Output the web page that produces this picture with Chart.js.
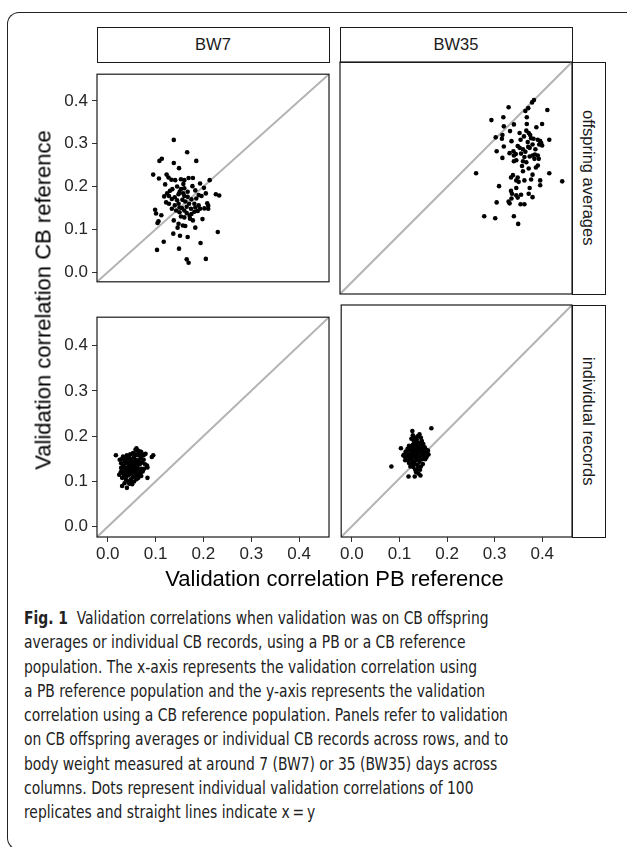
<!DOCTYPE html>
<html>
<head>
<meta charset="utf-8">
<script src="https://cdn.jsdelivr.net/npm/chart.js@4/dist/chart.umd.min.js"></script>
<style>
  html, body { margin: 0; padding: 0; background: #fff; }
  body { width: 627px; height: 847px; position: relative; overflow: hidden; font-family: "Liberation Sans", Arial, sans-serif; }
  .frame { position: absolute; left: 7px; top: 12px; width: 640px; height: 836px; border-top: 1px solid #222; border-left: 1px solid #222; border-bottom: 1px solid #222; border-radius: 12px 0 0 12px; }
  canvas { position: absolute; }
  .strip { position: absolute; box-sizing: border-box; border: 1.2px solid #1a1a1a; background: #fff; display: flex; align-items: center; justify-content: center; font-size: 16.5px; color: #1a1a1a; }
  .strip.side span { writing-mode: vertical-rl; }
  .axis-title { position: absolute; font-size: 22px; color: #000; text-align: center; white-space: nowrap; line-height: 24px; }
  .caption { position: absolute; left: 24px; top: 606px; font-family: "DejaVu Sans Condensed", "DejaVu Sans", sans-serif; font-size: 17px; line-height: 24.3px; color: #222; white-space: nowrap; transform: scaleX(0.908); transform-origin: 0 0; }
</style>
</head>
<body>
<div class="frame"></div>

<div class="strip" style="left:96.5px;top:27px;width:233px;height:35.5px">BW7</div>
<div class="strip" style="left:339.5px;top:27px;width:233px;height:35.5px">BW35</div>
<div class="strip side" style="left:571.5px;top:61.5px;width:34.5px;height:233px"><span>offspring averages</span></div>
<div class="strip side" style="left:571.5px;top:304.5px;width:34.5px;height:233px"><span>individual records</span></div>

<canvas id="pTL" width="283" height="236" style="left:48px;top:60px"></canvas>
<canvas id="pTR" width="236" height="236" style="left:338px;top:60px"></canvas>
<canvas id="pBL" width="283" height="266" style="left:48px;top:303px"></canvas>
<canvas id="pBR" width="236" height="266" style="left:338px;top:303px"></canvas>

<div class="axis-title" style="left:97px;top:567px;width:475px">Validation correlation PB reference</div>
<div class="axis-title" style="left:-194.5px;top:287.5px;width:475px;transform:rotate(-90deg)">Validation correlation CB reference</div>

<div class="caption">
  <div><b>Fig. 1</b>&nbsp; Validation correlations when validation was on CB offspring</div>
  <div>averages or individual CB records, using a PB or a CB reference</div>
  <div>population. The x-axis represents the validation correlation using</div>
  <div>a PB reference population and the y-axis represents the validation</div>
  <div>correlation using a CB reference population. Panels refer to validation</div>
  <div>on CB offspring averages or individual CB records across rows, and to</div>
  <div>body weight measured at around 7 (BW7) or 35 (BW35) days across</div>
  <div>columns. Dots represent individual validation correlations of 100</div>
  <div>replicates and straight lines indicate x&thinsp;=&thinsp;y</div>
</div>

<script>
// tick labels shared by all panels
const tickValues = [0, 0.1, 0.2, 0.3, 0.4];
const axisLimits = [-0.0225, 0.4625];

// [PB reference, CB reference] per replicate
const bw7Offspring = [
  [0.138,0.309],[0.166,0.280],[0.185,0.260],[0.108,0.260],[0.113,0.265],[0.138,0.255],[0.149,0.243],
  [0.095,0.228],[0.107,0.219],[0.123,0.228],[0.127,0.221],[0.133,0.216],[0.141,0.215],[0.153,0.217],
  [0.160,0.215],[0.169,0.220],[0.178,0.220],[0.158,0.206],[0.193,0.207],[0.213,0.215],[0.135,0.194],
  [0.177,0.201],[0.201,0.197],[0.153,0.194],[0.167,0.188],[0.183,0.191],[0.124,0.184],[0.148,0.182],
  [0.158,0.184],[0.190,0.180],[0.205,0.184],[0.226,0.182],[0.233,0.179],[0.118,0.177],[0.167,0.176],
  [0.134,0.171],[0.156,0.169],[0.162,0.165],[0.122,0.163],[0.148,0.160],[0.181,0.160],[0.190,0.156],
  [0.208,0.161],[0.210,0.155],[0.134,0.148],[0.143,0.144],[0.150,0.151],[0.174,0.148],[0.183,0.151],
  [0.193,0.148],[0.202,0.149],[0.210,0.148],[0.099,0.146],[0.101,0.137],[0.160,0.144],[0.165,0.138],
  [0.171,0.132],[0.181,0.141],[0.112,0.133],[0.153,0.130],[0.160,0.128],[0.172,0.125],[0.178,0.121],
  [0.198,0.124],[0.106,0.119],[0.104,0.115],[0.138,0.121],[0.148,0.113],[0.157,0.109],[0.162,0.108],
  [0.146,0.104],[0.183,0.104],[0.137,0.090],[0.151,0.085],[0.167,0.082],[0.230,0.094],[0.117,0.071],
  [0.194,0.068],[0.149,0.055],[0.103,0.052],[0.165,0.030],[0.169,0.022],[0.205,0.031],
  [0.140,0.175],[0.150,0.187],[0.145,0.168],[0.160,0.178],[0.170,0.160],[0.155,0.150],[0.165,0.153],
  [0.175,0.170],[0.130,0.190],[0.185,0.172],[0.145,0.200],[0.120,0.205],[0.140,0.156],[0.175,0.136],
  [0.160,0.196],[0.188,0.143],[0.128,0.160],[0.150,0.140],[0.128,0.178],[0.196,0.178]
];

const bw35Offspring = [
  [0.383,0.383],[0.379,0.378],[0.371,0.366],[0.365,0.360],[0.330,0.368],[0.411,0.362],[0.319,0.347],
  [0.294,0.341],[0.368,0.347],[0.341,0.332],[0.320,0.328],[0.368,0.333],[0.400,0.333],[0.388,0.326],
  [0.333,0.318],[0.353,0.314],[0.367,0.319],[0.372,0.314],[0.303,0.305],[0.317,0.310],[0.316,0.302],
  [0.362,0.307],[0.377,0.303],[0.382,0.302],[0.391,0.300],[0.396,0.297],[0.398,0.293],[0.394,0.290],
  [0.400,0.288],[0.415,0.300],[0.336,0.297],[0.349,0.287],[0.353,0.283],[0.371,0.285],[0.374,0.283],
  [0.320,0.286],[0.305,0.276],[0.332,0.272],[0.340,0.276],[0.356,0.271],[0.374,0.265],[0.380,0.267],
  [0.385,0.269],[0.391,0.267],[0.393,0.260],[0.384,0.260],[0.317,0.262],[0.341,0.267],[0.341,0.255],
  [0.346,0.257],[0.363,0.264],[0.360,0.255],[0.367,0.253],[0.391,0.246],[0.387,0.242],[0.262,0.230],
  [0.415,0.230],[0.360,0.234],[0.339,0.226],[0.335,0.221],[0.349,0.221],[0.380,0.227],[0.346,0.215],
  [0.351,0.212],[0.363,0.215],[0.377,0.217],[0.396,0.215],[0.442,0.213],[0.396,0.205],[0.310,0.203],
  [0.346,0.199],[0.374,0.199],[0.335,0.193],[0.337,0.187],[0.346,0.184],[0.356,0.185],[0.372,0.187],
  [0.380,0.180],[0.336,0.177],[0.349,0.179],[0.305,0.169],[0.330,0.171],[0.332,0.167],[0.355,0.165],
  [0.363,0.165],[0.279,0.140],[0.302,0.136],[0.341,0.140],[0.350,0.124],
  [0.360,0.280],[0.370,0.295],[0.355,0.300],[0.380,0.290],[0.365,0.275],[0.345,0.270],[0.386,0.280],
  [0.375,0.310],[0.358,0.245],[0.372,0.240]
];

const bw7Individual = [
  [0.017,0.158],[0.095,0.158],[0.060,0.173],[0.068,0.166],[0.079,0.161],[0.092,0.154],[0.082,0.135],
  [0.083,0.108],[0.030,0.090],[0.040,0.086],[0.051,0.094],[0.024,0.115],[0.083,0.131],[0.058,0.170],
  [0.030,0.150],[0.035,0.145],[0.028,0.140],[0.033,0.135],[0.038,0.140],[0.042,0.148],[0.045,0.152],
  [0.048,0.145],[0.052,0.150],[0.055,0.155],[0.058,0.160],[0.062,0.158],[0.065,0.162],[0.070,0.155],
  [0.072,0.160],[0.068,0.150],[0.063,0.146],[0.060,0.140],[0.055,0.142],[0.050,0.138],[0.045,0.135],
  [0.040,0.130],[0.035,0.128],[0.030,0.125],[0.027,0.120],[0.032,0.118],[0.037,0.122],[0.042,0.125],
  [0.047,0.128],[0.052,0.132],[0.057,0.135],[0.062,0.132],[0.067,0.138],[0.072,0.142],[0.075,0.148],
  [0.078,0.138],[0.070,0.128],[0.065,0.125],[0.060,0.122],[0.055,0.120],[0.050,0.118],[0.045,0.115],
  [0.040,0.112],[0.035,0.110],[0.030,0.108],[0.038,0.104],[0.043,0.100],[0.048,0.105],[0.053,0.110],
  [0.058,0.113],[0.063,0.115],[0.068,0.118],[0.073,0.122],[0.076,0.128],[0.060,0.105],[0.055,0.100],
  [0.050,0.098],[0.045,0.095],[0.035,0.096],[0.028,0.130],[0.025,0.148],[0.032,0.155],[0.040,0.158],
  [0.047,0.160],[0.053,0.163],[0.063,0.168],[0.070,0.165],[0.075,0.158],[0.066,0.143],[0.058,0.148],
  [0.049,0.142],[0.043,0.142],[0.038,0.150],[0.053,0.125],[0.047,0.122],[0.058,0.128],[0.064,0.108],
  [0.070,0.112],[0.034,0.116],[0.041,0.119]
];

const bw35Individual = [
  [0.083,0.125],[0.167,0.205],[0.127,0.199],[0.103,0.163],[0.119,0.104],[0.132,0.104],[0.144,0.106],
  [0.110,0.150],[0.112,0.145],[0.115,0.155],[0.118,0.148],[0.120,0.160],[0.122,0.142],[0.125,0.165],
  [0.128,0.155],[0.130,0.150],[0.132,0.170],[0.135,0.160],[0.138,0.145],[0.140,0.175],[0.142,0.155],
  [0.145,0.165],[0.148,0.150],[0.150,0.160],[0.152,0.145],[0.155,0.155],[0.158,0.150],[0.125,0.140],
  [0.128,0.135],[0.132,0.130],[0.135,0.138],[0.138,0.128],[0.142,0.135],[0.145,0.125],[0.148,0.140],
  [0.120,0.132],[0.118,0.138],[0.115,0.142],[0.108,0.148],[0.112,0.138],[0.122,0.150],[0.127,0.148],
  [0.133,0.145],[0.137,0.152],[0.140,0.162],[0.143,0.170],[0.147,0.178],[0.150,0.172],[0.153,0.165],
  [0.156,0.160],[0.160,0.158],[0.136,0.182],[0.132,0.185],[0.128,0.190],[0.125,0.183],[0.130,0.178],
  [0.138,0.188],[0.142,0.192],[0.145,0.185],[0.134,0.175],[0.128,0.170],[0.124,0.158],[0.120,0.168],
  [0.117,0.162],[0.131,0.162],[0.136,0.168],[0.141,0.145],[0.146,0.148],[0.151,0.152],[0.154,0.140],
  [0.143,0.118],[0.138,0.120],[0.133,0.118],[0.129,0.124],[0.126,0.128],[0.123,0.125],[0.140,0.110],
  [0.135,0.113],[0.149,0.130],[0.157,0.145],[0.161,0.150],[0.116,0.152],[0.113,0.156],[0.121,0.145],
  [0.126,0.152],[0.131,0.156],[0.139,0.158],[0.144,0.160],[0.149,0.158],[0.134,0.150],[0.129,0.145],
  [0.140,0.140]
];

// black box round each panel's plot area
const panelFrame = {
  id: 'panelFrame',
  afterDraw(chart) {
    const { ctx, chartArea: a } = chart;
    ctx.save();
    ctx.strokeStyle = '#1a1a1a';
    ctx.lineWidth = 1.2;
    ctx.strokeRect(a.left, a.top, a.right - a.left, a.bottom - a.top);
    ctx.restore();
  }
};

function axisOptions(show, isX) {
  const opts = {
    type: 'linear',
    min: axisLimits[0],
    max: axisLimits[1],
    display: show,
    afterBuildTicks(s) { s.ticks = tickValues.map(v => ({ value: v })); },
    ticks: {
      callback: v => v.toFixed(1),
      color: '#262626',
      font: { family: '"Liberation Sans", Arial, sans-serif', size: 17 },
      padding: isX ? 2 : 4,
      autoSkip: false,
      maxRotation: 0
    },
    grid: { drawOnChartArea: false, tickLength: 5, color: '#333', lineWidth: 1 },
    border: { display: false }
  };
  if (show) {
    opts.afterFit = isX ? (s => { s.height = 30; }) : (s => { s.width = 47; });
  }
  return opts;
}

function makePanel(id, points, showX, showY) {
  new Chart(document.getElementById(id), {
    type: 'scatter',
    data: {
      datasets: [
        {
          data: points.map(p => ({ x: p[0], y: p[1] })),
          backgroundColor: '#000',
          borderWidth: 0,
          pointRadius: 2.3,
          order: 0
        },
        {
          type: 'line',
          data: axisLimits.map(v => ({ x: v, y: v })),
          borderColor: '#b3b3b3',
          borderWidth: 2,
          pointRadius: 0,
          order: 1
        }
      ]
    },
    options: {
      responsive: false,
      animation: false,
      devicePixelRatio: 1,
      layout: { padding: 2, autoPadding: false },
      plugins: { legend: { display: false }, tooltip: { enabled: false } },
      scales: { x: axisOptions(showX, true), y: axisOptions(showY, false) }
    },
    plugins: [panelFrame]
  });
}

makePanel('pTL', bw7Offspring, false, true);
makePanel('pTR', bw35Offspring, false, false);
makePanel('pBL', bw7Individual, true, true);
makePanel('pBR', bw35Individual, true, false);
</script>
</body>
</html>
